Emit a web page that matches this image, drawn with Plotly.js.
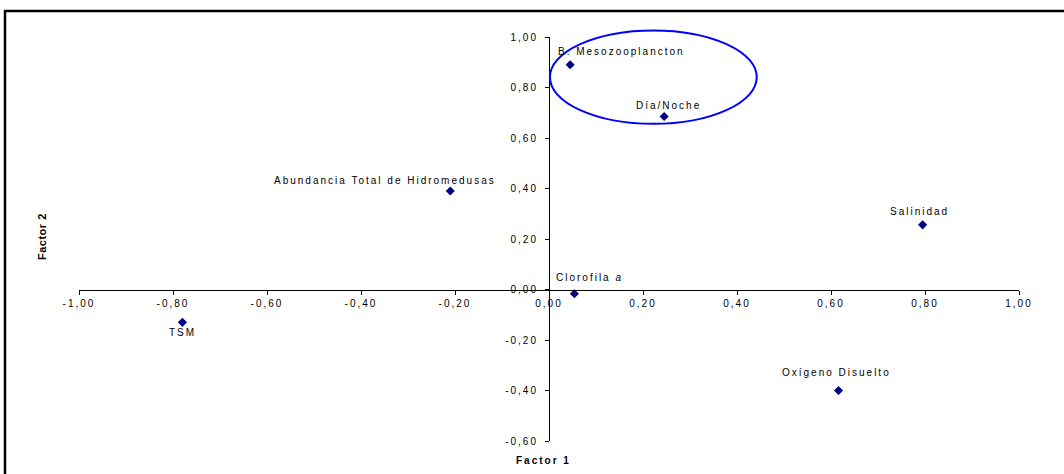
<!DOCTYPE html>
<html><head><meta charset="utf-8">
<script src="https://cdn.plot.ly/plotly-3.0.1.min.js"></script>
<style>
html,body{margin:0;padding:0;background:#fff;}
#chart{width:1064px;height:474px;}
#chart svg text{letter-spacing:2px;}
</style></head><body><div id="chart"></div>
<script>
// ---- data ----
const variables = ["TSM", "B. Mesozooplancton", "Día/Noche", "Abundancia Total de Hidromedusas", "Clorofila <i>a</i>", "Salinidad", "Oxígeno Disuelto"];
const factor1 = [-0.78, 0.045, 0.245, -0.21, 0.054, 0.795, 0.616];
const factor2 = [-0.13, 0.89, 0.685, 0.39, -0.017, 0.256, -0.40];
const xTickVals = [-1.0, -0.8, -0.6, -0.4, -0.2, 0.0, 0.2, 0.4, 0.6, 0.8, 1.0];
const yTickVals = [-0.6, -0.4, -0.2, 0.0, 0.2, 0.4, 0.6, 0.8, 1.0];
const groupEllipseX = [0.002, 0.442];
const groupEllipseY = [0.656, 1.026];
const xTitle = "Factor 1";
const yTitle = "Factor 2";

// ---- label placement (pixels) ----
const labelDX = [0, 51, 5, -65, 15, -3, -2];
const labelDY = [-10, 13, 11, 11, 16, 13, 18];

const fmt = v => v.toFixed(2).replace(".", ",");

const xMin = -1, xMax = 1, yMin = -0.6, yMax = 1.0;
const M = {l: 79, r: 45, t: 37, b: 33};
const W = 1064, H = 474;
const pw = W - M.l - M.r, ph = H - M.t - M.b;
const px = v => (v - M.l) / pw;          // page px -> paper x
const py = v => (H - M.b - v) / ph;      // page px -> paper y
const yToPaper = v => (v - yMin) / (yMax - yMin);

const font = {family: "Liberation Sans, Arial, sans-serif", size: 10, color: "#000"};

const trace = {
  x: factor1, y: factor2, type: "scatter", mode: "markers",
  marker: {symbol: "diamond", size: 7, color: "#000080"},
  hoverinfo: "skip", showlegend: false, cliponaxis: false
};

const annotations = variables.map((t, i) => ({
  x: factor1[i], y: factor2[i], xref: "x", yref: "y", text: t, showarrow: false,
  xanchor: "center", yanchor: "middle",
  xshift: labelDX[i], yshift: labelDY[i], font: font
}));
annotations.push({
  x: px(543), y: py(460), xref: "paper", yref: "paper", text: "<b>" + xTitle + "</b>",
  showarrow: false, xanchor: "center", yanchor: "middle", font: font
});
annotations.push({
  x: px(42), y: py(237), xref: "paper", yref: "paper", text: "<b>" + yTitle + "</b>",
  showarrow: false, textangle: -90, xanchor: "center", yanchor: "middle",
  font: {family: "Liberation Sans Narrow, Arial Narrow, Liberation Sans, sans-serif", size: 11, color: "#000"}
});

const layout = {
  width: W, height: H, margin: M,
  paper_bgcolor: "#fff", plot_bgcolor: "#fff",
  font: font, showlegend: false,
  xaxis: {
    range: [xMin, xMax], tickmode: "array", tickvals: xTickVals, ticktext: xTickVals.map(fmt),
    anchor: "free", position: (0 - yMin) / (yMax - yMin),
    showline: true, linecolor: "#000", linewidth: 1,
    ticks: "outside", ticklen: 4, tickcolor: "#000",
    showgrid: false, zeroline: false, tickfont: font, fixedrange: true
  },
  yaxis: {
    range: [yMin, yMax], tickmode: "array", tickvals: yTickVals, ticktext: yTickVals.map(fmt),
    anchor: "free", position: (0 - xMin) / (xMax - xMin),
    showline: true, linecolor: "#000", linewidth: 1,
    ticks: "outside", ticklen: 4, tickcolor: "#000", ticklabelstandoff: 5,
    showgrid: false, zeroline: false, tickfont: font, fixedrange: true
  },
  shapes: [
    {type: "circle", xref: "x", yref: "paper",
     x0: groupEllipseX[0], x1: groupEllipseX[1],
     y0: yToPaper(groupEllipseY[0]), y1: yToPaper(groupEllipseY[1]),
     line: {color: "#0000ff", width: 2}},
    {type: "rect", xref: "paper", yref: "paper",
     x0: px(5), x1: px(1075), y0: py(485), y1: py(11),
     line: {color: "#000", width: 2.5}}
  ],
  annotations: annotations
};

Plotly.newPlot("chart", [trace], layout, {displayModeBar: false, staticPlot: true}).then(gd => {
  gd.querySelectorAll("text").forEach(t => {
    if (t.textContent === yTitle) t.style.letterSpacing = "0.5px";
  });
});
</script></body></html>
